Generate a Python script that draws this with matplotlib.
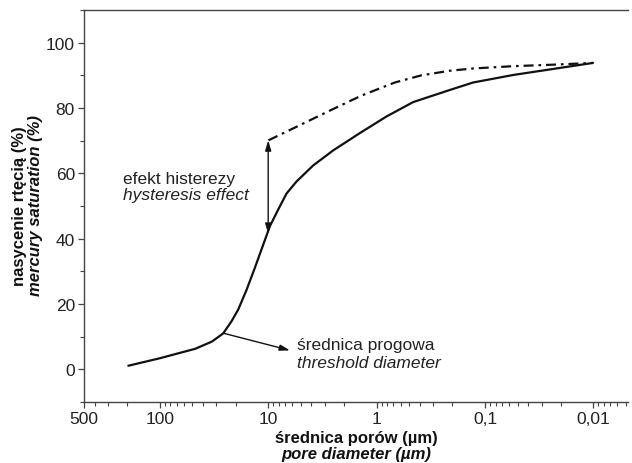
import numpy as np
import matplotlib
matplotlib.use("Agg")
import matplotlib.pyplot as plt
from matplotlib.ticker import FixedLocator, FixedFormatter, MultipleLocator, LogLocator, NullFormatter

plt.rcParams["font.family"] = ["Liberation Sans", "DejaVu Sans"]

# ──────────────────────────────────────────────
# DATEN
# ──────────────────────────────────────────────

# Drainage-Kurve (durchgezogen): Porendurchmesser [µm] / Sättigung [%]
d_solid = [195, 99.7, 47, 33, 26.0, 21.8, 18.9, 15.8, 13.3, 11.1, 9.65,
           8.09, 6.78, 5.48, 3.85, 2.52, 1.43, 0.811, 0.461, 0.212, 0.129,
           0.0552, 0.0220, 0.0101]
s_solid = [1.1, 3.4, 6.3, 8.5, 11.0, 14.7, 18.3, 24.4, 31.0, 38.2, 43.8,
           48.9, 53.8, 57.5, 62.4, 67.0, 72.3, 77.4, 81.8, 85.5, 87.8,
           90.1, 92.1, 93.8]

# Imbibitions-Kurve (strichpunktiert)
d_dash = [9.95, 5.68, 2.82, 1.38, 0.68, 0.386, 0.212, 0.129, 0.0552, 0.0220, 0.0101]
s_dash = [70.1, 74.0, 78.9, 83.8, 87.8, 90.0, 91.4, 92.1, 92.8, 93.3, 93.8]

x_ticks = [500, 100, 10, 1, 0.1, 0.01]
x_ticklabels = ["500", "100", "10", "1", "0,1", "0,01"]
y_ticks = [0, 20, 40, 60, 80, 100]

# Pfeile
hyst_d, hyst_top, hyst_bot = 10.0, 70.1, 41.5
thr_start = (25.5, 11.0)
thr_end = (6.3, 5.8)

# ──────────────────────────────────────────────
# PLOT
# ──────────────────────────────────────────────

W, H = 632, 464
fig = plt.figure(figsize=(W / 100, H / 100), dpi=100)
ax = fig.add_axes([84 / W, 1 - 403 / H, (628 - 84) / W, (403 - 11) / H])

ax.plot(d_solid, s_solid, color="#111111", lw=1.6, solid_capstyle="round",
        solid_joinstyle="round")
ax.plot(d_dash, s_dash, color="#111111", lw=1.6, dashes=(4.5, 2.2, 1.2, 2.2))

ax.set_xscale("log")
ax.set_xlim(500, 0.0048)
ax.set_ylim(-10, 110)

ax.xaxis.set_major_locator(FixedLocator(x_ticks))
ax.xaxis.set_major_formatter(FixedFormatter(x_ticklabels))
ax.xaxis.set_minor_locator(LogLocator(base=10, subs=np.arange(2, 10), numticks=20))
ax.xaxis.set_minor_formatter(NullFormatter())
ax.yaxis.set_major_locator(FixedLocator(y_ticks))
ax.yaxis.set_minor_locator(MultipleLocator(10))

spine_col = "#444444"
for side in ["left", "bottom", "top"]:
    ax.spines[side].set_color(spine_col)
    ax.spines[side].set_linewidth(1.0)
ax.spines["right"].set_visible(False)

ax.tick_params(which="major", direction="out", length=4.5, width=0.9,
               color=spine_col, labelsize=12.5, labelcolor="#222222", pad=2)
ax.tick_params(which="minor", direction="out", length=2.8, width=0.8, color=spine_col)
ax.tick_params(top=False, right=False, which="both")

# Hysterese-Pfeil (doppelt)
ax.annotate("", xy=(hyst_d, hyst_top), xytext=(hyst_d, hyst_bot),
            arrowprops=dict(arrowstyle="<|-|>,head_length=0.6,head_width=0.18",
                            color="#111111", lw=1.0, shrinkA=0, shrinkB=0))
# Schwellendurchmesser-Pfeil
ax.annotate("", xy=thr_end, xytext=thr_start,
            arrowprops=dict(arrowstyle="-|>,head_length=0.6,head_width=0.18",
                            color="#111111", lw=1.0, shrinkA=0, shrinkB=0))

txt = dict(fontsize=12.5, color="#222222", va="baseline", ha="left")
ax.text(220, 57.1, "efekt histerezy", **txt)
ax.text(220, 52.0, "hysteresis effect", style="italic", **txt)
ax.text(5.44, 6.1, "średnica progowa", **txt)
ax.text(5.44, 0.6, "threshold diameter", style="italic", **txt)

# Achsenbeschriftungen
cx = (84 + 628) / 2 / W
fig.text(cx, 1 - 443 / H, "średnica porów (µm)", ha="center", va="baseline",
         fontsize=12, fontweight="bold", color="#111111")
fig.text(cx, 1 - 459 / H, "pore diameter (µm)", ha="center", va="baseline",
         fontsize=12, fontweight="bold", style="italic", color="#111111")
cy = 1 - 206 / H
fig.text(20 / W, cy, "nasycenie rtęcią (%)", rotation=90, ha="center", va="center",
         fontsize=12, fontweight="bold", color="#111111")
fig.text(36 / W, cy, "mercury saturation (%)", rotation=90, ha="center", va="center",
         fontsize=12, fontweight="bold", style="italic", color="#111111")

fig.savefig("out.png", dpi=100)
